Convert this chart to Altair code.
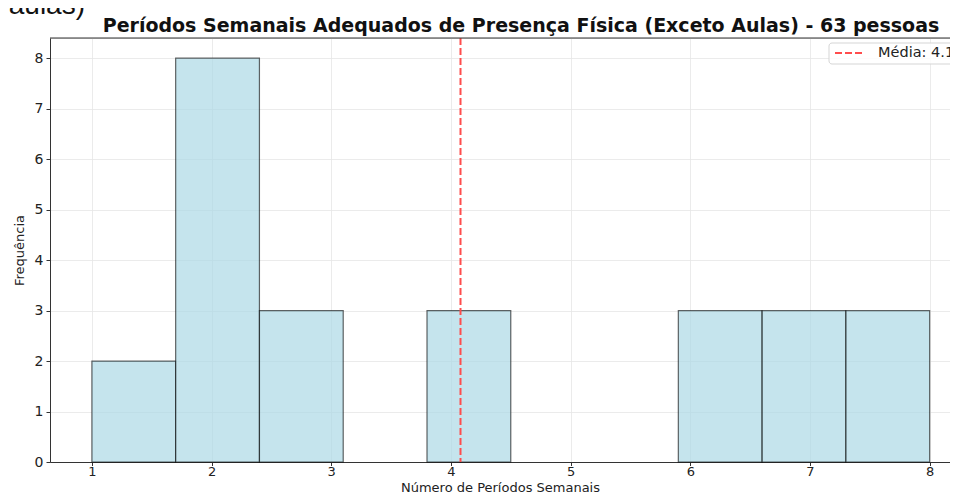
import altair as alt
import pandas as pd

# Data
bin_edges = [1.0, 1.7, 2.4, 3.1, 3.8, 4.5, 5.2, 5.9, 6.6, 7.3, 8.0]
counts = [2, 8, 3, 0, 3, 0, 0, 3, 3, 3]
mean_value = 4.08
x_ticks = [1, 2, 3, 4, 5, 6, 7, 8]
y_ticks = [0, 1, 2, 3, 4, 5, 6, 7, 8]
title_text = "Períodos Semanais Adequados de Presença Física (Exceto Aulas) - 63 pessoas"
legend_label = "Média: 4.1"
fragment_text = "aulas)"

bars = pd.DataFrame({
    "start": bin_edges[:-1],
    "end": bin_edges[1:],
    "count": counts,
})
bars = bars[bars["count"] > 0]

W, H = 900, 424
FONT = "DejaVu Sans"

xscale = alt.Scale(domain=[0.65, 8.17], nice=False, zero=False)
yscale = alt.Scale(domain=[0, 8.4], nice=False)

hist = alt.Chart(bars).mark_rect(
    fill="lightblue", fillOpacity=0.7, stroke="black", strokeOpacity=0.6, strokeWidth=1.2
).encode(
    x=alt.X("start:Q", scale=xscale,
            axis=alt.Axis(values=x_ticks, title="Número de Períodos Semanais", format="d",
                          grid=True, gridColor="#e6e6e6", gridWidth=0.8,
                          domainColor="#333", tickColor="#333", tickSize=3.5, labelPadding=0,
                          labelFontSize=13, labelColor="#222", labelFont=FONT,
                          titleFont=FONT, titleFontSize=13, titleFontWeight="normal",
                          titleColor="#222", titleBaseline="alphabetic", titleY=29)),
    x2="end:Q",
    y=alt.Y("count:Q", scale=yscale,
            axis=alt.Axis(values=y_ticks, title="Frequência", format="d",
                          grid=True, gridColor="#e6e6e6", gridWidth=0.8,
                          domainColor="#333", tickColor="#333", tickSize=4, labelPadding=3,
                          labelFontSize=14, labelColor="#222", labelFont=FONT,
                          titleFont=FONT, titleFontSize=13, titleFontWeight="normal",
                          titleColor="#222", titlePadding=8)),
    y2=alt.datum(0),
)

mean_df = pd.DataFrame({"m": [mean_value]})
mean_line = alt.Chart(mean_df).mark_rule(
    color="#ff4d4d", strokeWidth=2, strokeDash=[7, 3]
).encode(x=alt.X("m:Q", scale=xscale))

top_line = alt.Chart(mean_df).mark_rule(color="#333", strokeWidth=1).encode(
    x=alt.value(0), x2=alt.value(W), y=alt.value(0)
)

legend_box = alt.Chart(mean_df).mark_rect(
    fill="white", fillOpacity=0.85, stroke="#d5d5d5", strokeWidth=1, cornerRadius=3
).encode(x=alt.value(779), x2=alt.value(W + 20), y=alt.value(5), y2=alt.value(26))

legend_line = alt.Chart(mean_df).mark_rule(
    color="#ff4d4d", strokeWidth=2, strokeDash=[7, 3]
).encode(x=alt.value(785), x2=alt.value(815), y=alt.value(15))

legend_text = alt.Chart(pd.DataFrame({"t": [legend_label]})).mark_text(
    align="left", baseline="middle", font=FONT, fontSize=14.5, color="#222"
).encode(x=alt.value(828), y=alt.value(15), text="t:N")

title = alt.Chart(pd.DataFrame({"t": [title_text]})).mark_text(
    align="center", baseline="alphabetic", font=FONT, fontSize=19, fontWeight="bold", color="#111"
).encode(x=alt.value(471), y=alt.value(-6), text="t:N")

fragment = alt.Chart(pd.DataFrame({"t": [fragment_text]})).mark_text(
    align="right", baseline="alphabetic", font="Liberation Sans", fontSize=28, color="#111"
).encode(x=alt.value(35), y=alt.value(-24), text="t:N")

chart = alt.layer(
    hist, mean_line, top_line, legend_box, legend_line, legend_text, title, fragment
).properties(
    width=W, height=H,
    autosize=alt.AutoSizeParams(type="none"),
    padding={"left": 42, "top": 30, "right": 0, "bottom": 33},
).configure_view(strokeWidth=0).configure(background="white")

chart.save("out.html", embed_options={"renderer": "svg", "actions": False})
